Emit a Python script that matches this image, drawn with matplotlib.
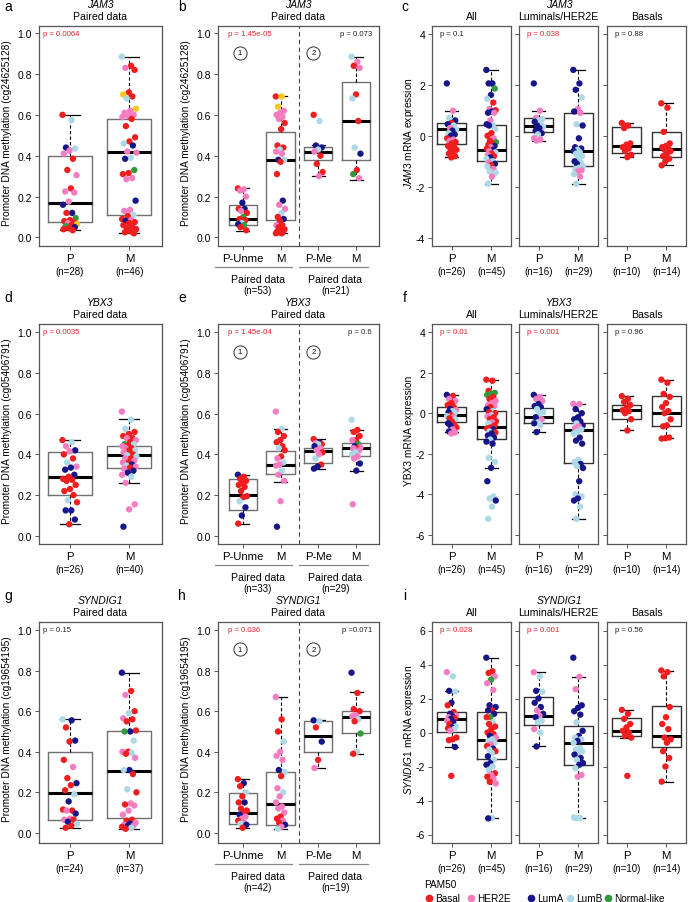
import numpy as np
import matplotlib
matplotlib.use("Agg")
import matplotlib.pyplot as plt
from matplotlib.lines import Line2D

plt.rcParams['font.family'] = ['Liberation Sans', 'DejaVu Sans']
plt.rcParams['mathtext.fontset'] = 'custom'
plt.rcParams['mathtext.it'] = 'Liberation Sans:italic'
plt.rcParams['mathtext.rm'] = 'Liberation Sans'

W, H = 688, 903

# PAM50 colour codes: B=Basal H=HER2E A=LumA L=LumB N=Normal-like Y=unlabelled (gold)
PAM50 = {'B': '#F01E1E', 'H': '#F47DC2', 'A': '#16168A', 'L': '#ADD8E6',
         'N': '#2E9B3C', 'Y': '#F8C81A'}
legend_labels = ['Basal', 'HER2E', 'LumA', 'LumB', 'Normal-like']
legend_codes = ['B', 'H', 'A', 'L', 'N']

# box stats: [whisker low, q1, median, q3, whisker high]
# ---------------- JAM3 ----------------
a_P_stats = [0.035, 0.075, 0.17, 0.40, 0.60]
a_P_vals = [0.60, 0.575, 0.44, 0.435, 0.425, 0.41, 0.385, 0.33, 0.305, 0.24, 0.225, 0.22, 0.175, 0.16,
            0.12, 0.12, 0.095, 0.085, 0.08, 0.075, 0.07, 0.065, 0.06, 0.055, 0.05, 0.045, 0.04, 0.035]
a_P_cols = "BLALHHBBHBHHHAABNBBBHYBNABBB"
a_M_stats = [0.02, 0.11, 0.42, 0.58, 0.885]
a_M_vals = [0.885, 0.84, 0.83, 0.82, 0.71, 0.70, 0.69, 0.68, 0.63, 0.62, 0.61, 0.60, 0.595, 0.59, 0.58,
            0.545, 0.49, 0.47, 0.46, 0.45, 0.42, 0.415, 0.39, 0.385, 0.33, 0.315, 0.31, 0.29, 0.285,
            0.18, 0.135, 0.13, 0.11, 0.105, 0.09, 0.085, 0.08, 0.075, 0.07, 0.06, 0.05, 0.045, 0.04,
            0.03, 0.025, 0.02]
a_M_cols = "LBHBBYBLYHHHHHBBBBLAHHLANBBHHAHHLBBHABBBBBBBBB"

b_PU_stats = [0.03, 0.06, 0.088, 0.16, 0.24]
b_PU_vals = [0.24, 0.235, 0.23, 0.20, 0.17, 0.14, 0.14, 0.13, 0.12, 0.10, 0.09, 0.085, 0.07, 0.065,
             0.06, 0.05, 0.035]
b_PU_cols = "BHHHABAHBNBBLANBB"
b_M1_stats = [0.02, 0.085, 0.38, 0.515, 0.69]
b_M1_vals = [0.69, 0.69, 0.64, 0.62, 0.61, 0.60, 0.59, 0.58, 0.56, 0.53, 0.45, 0.44, 0.43, 0.42, 0.41,
             0.38, 0.38, 0.37, 0.31, 0.18, 0.16, 0.14, 0.12, 0.10, 0.09, 0.08, 0.06, 0.06, 0.05, 0.04,
             0.035, 0.03, 0.03, 0.025, 0.02, 0.02]
b_M1_cols = "BYYHHHHHBBBBLHHALBBAHHLBABHBBBBBBBBB"
b_PM_stats = [0.30, 0.38, 0.42, 0.445, 0.45]
b_PM_vals = [0.60, 0.57, 0.45, 0.44, 0.43, 0.42, 0.40, 0.36, 0.32, 0.30]
b_PM_cols = "BLAALHBBBH"
b_M2_stats = [0.28, 0.38, 0.57, 0.76, 0.885]
b_M2_vals = [0.885, 0.86, 0.84, 0.83, 0.70, 0.68, 0.57, 0.44, 0.41, 0.33, 0.31, 0.29]
b_M2_cols = "LHBHBLBLABNH"

c_allP_stats = [-0.84, -0.34, 0.27, 0.5, 0.98]
c_allP_vals = [2.05, 0.98, 0.7, 0.6, 0.5, 0.45, 0.4, 0.3, 0.25, 0.2, 0.1, 0.05, 0.0, -0.1, -0.15, -0.2,
               -0.25, -0.3, -0.4, -0.45, -0.5, -0.55, -0.6, -0.7, -0.8, -0.85]
c_allP_cols = "AHLABALHLALAABHHBBBBBBBBBB"
c_allM_stats = [-1.88, -0.99, -0.54, 0.42, 2.58]
c_allM_vals = [2.58, 2.05, 2.05, 1.85, 1.6, 1.45, 1.3, 1.05, 1.0, 0.95, 0.9, 0.9, 0.6, 0.45, 0.4, 0.4,
               0.25, 0.1, 0.0, -0.1, -0.2, -0.25, -0.3, -0.35, -0.4, -0.45, -0.5, -0.55, -0.6, -0.65,
               -0.7, -0.75, -0.8, -0.85, -0.9, -1.0, -1.05, -1.1, -1.15, -1.2, -1.3, -1.4, -1.45,
               -1.6, -1.88]
c_allM_cols = "AAANALBHBAAHHALALBBHBNBBAHBAHLBHBALLHABLHLLHL"
c_lumP_stats = [-0.19, 0.14, 0.40, 0.70, 0.98]
c_lumP_vals = [2.05, 0.98, 0.7, 0.65, 0.6, 0.55, 0.45, 0.4, 0.35, 0.3, 0.2, 0.1, 0.05, -0.1, -0.15, -0.19]
c_lumP_cols = "AHHLLALALAAALHHH"
c_lumM_stats = [-1.88, -1.19, -0.6, 0.88, 2.58]
c_lumM_vals = [2.58, 2.05, 1.8, 1.5, 1.05, 0.95, 0.9, 0.45, 0.4, -0.1, -0.45, -0.5, -0.55, -0.6, -0.65,
               -0.7, -0.8, -0.9, -1.0, -1.05, -1.1, -1.2, -1.25, -1.3, -1.35, -1.4, -1.5, -1.6, -1.88]
c_lumM_cols = "AAALHAHLAAAALALLLLALALLLHHLHL"
c_basP_stats = [-0.84, -0.67, -0.41, 0.33, 0.5]
c_basP_vals = [0.5, 0.4, 0.3, -0.3, -0.35, -0.45, -0.5, -0.6, -0.75, -0.84]
c_basM_stats = [-1.16, -0.84, -0.5, 0.14, 1.27]
c_basM_vals = [1.27, 1.1, 0.15, -0.3, -0.4, -0.45, -0.5, -0.55, -0.6, -0.7, -0.8, -0.9, -1.0, -1.16]

# ---------------- YBX3 ----------------
d_P_stats = [0.057, 0.20, 0.29, 0.41, 0.47]
d_P_vals = [0.47, 0.46, 0.44, 0.42, 0.415, 0.40, 0.38, 0.36, 0.34, 0.335, 0.325, 0.30, 0.29, 0.28,
            0.275, 0.27, 0.25, 0.23, 0.22, 0.20, 0.175, 0.165, 0.125, 0.125, 0.08, 0.057]
d_P_cols = "BLHAHBBLHAAABBBBBBBBLBAAAB"
d_M_stats = [0.26, 0.333, 0.397, 0.44, 0.574]
d_M_vals = [0.61, 0.57, 0.525, 0.51, 0.50, 0.49, 0.48, 0.48, 0.47, 0.46, 0.45, 0.45, 0.445, 0.44, 0.43,
            0.43, 0.42, 0.42, 0.41, 0.40, 0.395, 0.39, 0.38, 0.38, 0.37, 0.36, 0.36, 0.35, 0.345, 0.34,
            0.335, 0.33, 0.32, 0.31, 0.30, 0.29, 0.26, 0.155, 0.13, 0.045]
d_M_cols = "HLLBBBBHHBNLBHBHLBHBLLBHHBHALHBHAAHLHHHA"

e_PU_stats = [0.06, 0.125, 0.20, 0.277, 0.30]
e_PU_vals = [0.30, 0.29, 0.28, 0.27, 0.26, 0.25, 0.24, 0.22, 0.195, 0.19, 0.17, 0.14, 0.10, 0.06]
e_PU_cols = "ABBBBBBBBBLAAB"
e_M1_stats = [0.266, 0.305, 0.35, 0.415, 0.525]
e_M1_vals = [0.61, 0.525, 0.51, 0.49, 0.47, 0.46, 0.44, 0.43, 0.42, 0.39, 0.38, 0.36, 0.35, 0.345,
             0.32, 0.30, 0.27, 0.17, 0.045]
e_M1_cols = "HLBBBBBLBBHLHHLHHHA"
e_PM_stats = [0.33, 0.356, 0.415, 0.433, 0.475]
e_PM_vals = [0.475, 0.46, 0.455, 0.45, 0.45, 0.44, 0.43, 0.42, 0.41, 0.40, 0.38, 0.35, 0.34, 0.33]
e_PM_cols = "BAHBLAHHBHLBAA"
e_M2_stats = [0.32, 0.393, 0.433, 0.454, 0.52]
e_M2_vals = [0.57, 0.52, 0.51, 0.49, 0.47, 0.47, 0.45, 0.44, 0.435, 0.43, 0.43, 0.42, 0.41, 0.40,
             0.39, 0.38, 0.355, 0.32, 0.155]
e_M2_cols = "LBBBBHNAHBHHLLHHAAH"

f_allP_stats = [-0.93, -0.44, -0.11, 0.30, 0.88]
f_allP_vals = [0.9, 0.85, 0.7, 0.6, 0.5, 0.4, 0.3, 0.2, 0.15, 0.1, 0.05, 0.0, -0.1, -0.15, -0.2, -0.25,
               -0.3, -0.4, -0.5, -0.55, -0.6, -0.7, -0.8, -0.9, -0.95, -1.0]
f_allP_cols = "ABHHBBBAHLALBLHBLBABABHAHH"
f_allM_stats = [-2.69, -1.26, -0.69, 0.13, 1.65]
f_allM_vals = [1.65, 1.6, 1.1, 1.0, 0.95, 0.9, 0.8, 0.7, 0.6, 0.5, 0.4, 0.35, 0.3, 0.2, 0.1, 0.05, 0.0,
               -0.1, -0.15, -0.2, -0.3, -0.4, -0.45, -0.5, -0.6, -0.7, -0.75, -0.8, -0.9, -0.95,
               -1.0, -1.1, -1.2, -1.3, -1.4, -1.5, -2.2, -2.4, -2.69, -3.35, -4.1, -4.2, -4.3, -4.6,
               -5.2]
f_allM_cols = "BBBNNNBBHHHHBALBBLHBBBHLBBBALBAAALAALLAALLALL"
f_lumP_stats = [-0.93, -0.49, -0.21, 0.27, 0.91]
f_lumP_vals = [0.9, 0.8, 0.7, 0.6, 0.45, 0.35, 0.3, 0.2, 0.05, -0.05, -0.2, -0.3, -0.45, -0.5, -0.6, -0.93]
f_lumP_cols = "AHHHAAALLLAHLALA"
f_lumM_stats = [-5.2, -2.46, -0.82, -0.47, 0.46]
f_lumM_vals = [0.46, 0.45, 0.2, 0.0, -0.2, -0.3, -0.4, -0.5, -0.6, -0.65, -0.75, -0.8, -0.9, -1.0,
               -1.2, -1.35, -1.5, -2.3, -2.4, -2.5, -2.6, -2.7, -3.35, -4.0, -4.1, -4.2, -4.3, -4.6, -5.2]
f_lumM_cols = "HHAAAAALAHHLLLAAALLALAALLAALL"
f_basP_stats = [-0.85, -0.28, 0.15, 0.41, 0.84]
f_basP_vals = [0.84, 0.7, 0.55, 0.4, 0.25, 0.15, 0.1, 0.0, -0.3, -0.85]
f_basM_stats = [-1.23, -0.65, -0.01, 0.84, 1.65]
f_basM_vals = [1.65, 1.5, 0.95, 0.8, 0.5, 0.3, 0.1, 0.0, -0.3, -0.6, -0.65, -1.2, -1.23, -1.25]

# ---------------- SYNDIG1 ----------------
g_P_stats = [0.025, 0.063, 0.198, 0.40, 0.56]
g_P_vals = [0.56, 0.555, 0.52, 0.455, 0.45, 0.36, 0.325, 0.27, 0.245, 0.235, 0.21, 0.19, 0.155, 0.115,
            0.11, 0.11, 0.095, 0.07, 0.065, 0.065, 0.055, 0.045, 0.035, 0.025]
g_P_cols = "LABABBHBABBLABBHAHHBALBB"
g_M_stats = [0.02, 0.074, 0.305, 0.50, 0.79]
g_M_vals = [0.79, 0.70, 0.68, 0.60, 0.59, 0.565, 0.56, 0.55, 0.505, 0.50, 0.50, 0.455, 0.40, 0.40,
            0.395, 0.39, 0.37, 0.31, 0.31, 0.29, 0.215, 0.20, 0.145, 0.14, 0.135, 0.11, 0.09, 0.065,
            0.06, 0.05, 0.045, 0.04, 0.035, 0.035, 0.03, 0.025, 0.02]
g_M_cols = "ABHBLHBBBANLBHLBHALBLBHBHHHBBHAHHABLB"

h_PU_stats = [0.025, 0.046, 0.098, 0.197, 0.265]
h_PU_vals = [0.265, 0.245, 0.23, 0.20, 0.18, 0.15, 0.15, 0.12, 0.11, 0.10, 0.09, 0.08, 0.07, 0.06,
             0.05, 0.045, 0.04, 0.025]
h_PU_cols = "BABLBBABBBAHHBHLAB"
h_M1_stats = [0.02, 0.04, 0.14, 0.30, 0.67]
h_M1_vals = [0.67, 0.56, 0.50, 0.45, 0.40, 0.38, 0.36, 0.31, 0.30, 0.28, 0.22, 0.20, 0.18, 0.15, 0.13,
             0.12, 0.10, 0.08, 0.07, 0.06, 0.05, 0.04, 0.03, 0.02]
h_M1_cols = "HBBLHHHALBHLHHHHHBBHBAHL"
h_PM_stats = [0.32, 0.40, 0.48, 0.55, 0.555]
h_PM_vals = [0.555, 0.55, 0.52, 0.45, 0.36, 0.32]
h_PM_cols = "ALBABH"
h_M2_stats = [0.39, 0.495, 0.57, 0.60, 0.693]
h_M2_vals = [0.79, 0.69, 0.61, 0.60, 0.58, 0.575, 0.56, 0.55, 0.49, 0.40, 0.39]
h_M2_cols = "ABBBHHLBNLB"

i_allP_stats = [-0.85, 0.03, 0.78, 1.2, 2.45]
i_allP_vals = [3.55, 3.3, 2.45, 2.4, 1.75, 1.6, 1.2, 1.1, 1.0, 0.95, 0.9, 0.85, 0.8, 0.7, 0.6, 0.5,
               0.35, 0.3, 0.25, 0.2, 0.1, -0.3, -0.4, -0.45, -0.85, -2.55]
i_allP_cols = "HLALABBAHAHBAHABLABLHBBBAB"
i_allM_stats = [-5.03, -1.55, -0.46, 1.19, 4.4]
i_allM_vals = [4.4, 3.6, 3.5, 3.3, 3.1, 2.9, 2.5, 1.6, 1.5, 1.3, 1.3, 1.1, 0.9, 0.9, 0.6, 0.5, 0.35,
               0.2, 0.0, -0.1, -0.2, -0.3, -0.4, -0.5, -0.6, -0.7, -0.8, -0.95, -1.0, -1.1, -1.2, -1.4,
               -1.6, -1.8, -1.9, -2.0, -2.2, -2.4, -2.5, -2.6, -2.7, -2.9, -3.0, -5.03, -5.05]
i_allM_cols = "ABBHNHHAABAANBLBBBBBAHLLLHBALBLALAALLBHBHBHLA"
i_lumP_stats = [-0.82, 0.42, 0.98, 2.08, 3.58]
i_lumP_vals = [3.55, 3.3, 2.45, 2.4, 2.0, 1.75, 1.5, 1.3, 1.1, 1.0, 0.9, 0.7, 0.6, 0.2, 0.0, -0.82]
i_lumP_cols = "HLALAAAHAHALLHLA"
i_lumM_stats = [-5.03, -1.94, -0.6, 0.38, 3.28]
i_lumM_vals = [4.4, 3.28, 2.55, 1.6, 1.45, 1.25, 1.05, 0.6, 0.1, -0.2, -0.3, -0.4, -0.5, -0.6, -0.9,
               -1.0, -1.1, -1.2, -1.3, -1.5, -1.6, -1.8, -1.9, -2.1, -2.5, -2.6, -5.0, -5.03, -5.05]
i_lumM_cols = "AHHAAAALAALLALLLLLAALAALHHLLL"
i_basP_stats = [-0.33, -0.23, 0.09, 0.84, 1.33]
i_basP_vals = [1.33, 1.1, 0.8, 0.5, 0.3, 0.1, 0.0, -0.2, -0.3, -2.55]
i_basM_stats = [-2.89, -0.86, -0.19, 1.55, 3.63]
i_basM_vals = [3.65, 3.55, 3.3, 1.5, 0.9, 0.5, 0.2, -0.3, -0.4, -0.6, -1.1, -1.5, -2.0, -2.89]

fig = plt.figure(figsize=(W / 100, H / 100), dpi=100)
RED = '#E8202A'


def add_ax(l, t, r, b):
    return fig.add_axes([l / W, 1 - b / H, (r - l) / W, (b - t) / H])


def ftext(x, y, s, **kw):
    kw.setdefault('ha', 'center')
    kw.setdefault('va', 'center')
    fig.text(x / W, 1 - y / H, s, **kw)


def style(ax, ylim, yticks, ylab=True, fmt="{:.1f}"):
    ax.set_ylim(ylim)
    ax.set_yticks(yticks)
    if ylab:
        ax.set_yticklabels([fmt.format(t) for t in yticks])
    else:
        ax.set_yticklabels([])
    for sp in ax.spines.values():
        sp.set_color('#555555')
        sp.set_linewidth(0.9)
    ax.tick_params(axis='y', length=3, width=0.7, color='#555555', labelsize=7.5, pad=2)
    ax.tick_params(axis='x', length=3, width=0.7, color='#555555', labelsize=8.2, pad=2)


def draw_box(ax, pos, stats, vals, cols, edge):
    st = dict(whislo=stats[0], q1=stats[1], med=stats[2], q3=stats[3], whishi=stats[4], fliers=[])
    ax.bxp([st], positions=[pos], widths=0.74, capwidths=0.34, showfliers=False,
           boxprops=dict(color=edge, lw=1.0),
           medianprops=dict(color='black', lw=2.2),
           whiskerprops=dict(color='black', lw=0.8, ls=(0, (3, 2))),
           capprops=dict(color='black', lw=0.9), zorder=2)
    n = len(vals)
    jit = ((np.arange(n) * 0.618034) % 1 - 0.5) * 0.25
    ax.scatter(pos + jit, vals, s=21, c=[PAM50[k] for k in cols], linewidths=0, zorder=3)


def n_label(ax, pos, s, dy=-18):
    ax.annotate(s, (pos, 0), xycoords=('data', 'axes fraction'), xytext=(0, dy),
                textcoords='offset points', ha='center', va='center', fontsize=7)


def pval(ax, x, s, color, ha='left'):
    ax.text(x, 0.965, s, transform=ax.transAxes, fontsize=5.6, color=color, ha=ha, va='center')


def paired_panel(ax, boxes, p1, p1c, p2, p2c, n1, n2, ylim):
    ax.set_xlim(0.35, 4.6)
    for k, (st, v, c) in enumerate(boxes):
        draw_box(ax, k + 1, st, v, c, '#707070')
    style(ax, ylim, [0, 0.2, 0.4, 0.6, 0.8, 1.0])
    ax.set_xticks([1, 2, 3, 4])
    ax.set_xticklabels(['P-Unme', 'M', 'P-Me', 'M'])
    ax.axvline(2.5, color='#444444', ls=(0, (4, 3)), lw=0.8)
    pval(ax, 0.06, p1, p1c)
    pval(ax, 0.957, p2, p2c, ha='right')
    for xc, lab in [(0.92, '1'), (2.87, '2')]:
        ax.plot([xc], [0.905], marker='o', ms=9.5, mfc='white', mec='#333333', mew=0.7, zorder=4)
        ax.text(xc, 0.905, lab, fontsize=5.5, ha='center', va='center', zorder=5)
    for (x0, x1, xm, nn) in [(0.26, 2.3, 1.4, n1), (2.5, 4.3, 3.45, n2)]:
        ax.plot([x0, x1], [-0.095, -0.095], color='#888888', lw=0.9,
                transform=ax.get_xaxis_transform(), clip_on=False)
        ax.annotate('Paired data', (xm, 0), xycoords=('data', 'axes fraction'), xytext=(0, -24),
                    textcoords='offset points', ha='center', va='center', fontsize=7.6)
        n_label(ax, xm, nn, dy=-32)


def pair_panel(ax, sP, vP, cP, sM, vM, cM, p, pc, nP, nM, ylim):
    ax.set_xlim(0.48, 2.55)
    draw_box(ax, 1, sP, vP, cP, '#707070')
    draw_box(ax, 2, sM, vM, cM, '#707070')
    style(ax, ylim, [0, 0.2, 0.4, 0.6, 0.8, 1.0])
    ax.set_xticks([1, 2])
    ax.set_xticklabels(['P', 'M'])
    pval(ax, 0.035, p, pc)
    n_label(ax, 1, nP)
    n_label(ax, 2, nM)


def expr_panel(axs, groups, ylim, yticks):
    for j, (ax, g) in enumerate(zip(axs, groups)):
        sP, vP, cP, sM, vM, cM, p, pc, nP, nM = g
        ax.set_xlim(0.5, 2.5)
        draw_box(ax, 1, sP, vP, cP, '#333333')
        draw_box(ax, 2, sM, vM, cM, '#333333')
        style(ax, ylim, yticks, ylab=(j == 0), fmt="{:g}")
        ax.set_xticks([1, 2])
        ax.set_xticklabels(['P', 'M'])
        pval(ax, 0.1, p, pc)
        n_label(ax, 1, nP)
        n_label(ax, 2, nM)


rows = [(27, 247), (325, 545), (623, 844)]
sub_x = [(432, 511), (519, 598), (607, 686)]

# ---- row 1: JAM3 ----
t, b = rows[0]
ax_a = add_ax(39, t, 162, b)
pair_panel(ax_a, a_P_stats, a_P_vals, a_P_cols, a_M_stats, a_M_vals, a_M_cols,
           'p = 0.0064', RED, '(n=28)', '(n=46)', (-0.042, 1.035))
ax_b = add_ax(218, t, 379, b)
paired_panel(ax_b, [(b_PU_stats, b_PU_vals, b_PU_cols), (b_M1_stats, b_M1_vals, b_M1_cols),
                    (b_PM_stats, b_PM_vals, b_PM_cols), (b_M2_stats, b_M2_vals, b_M2_cols)],
             'p = 1.45e-05', RED, 'p = 0.073', '#222222', '(n=53)', '(n=21)', (-0.042, 1.035))
axs_c = [add_ax(l, t, r, b) for l, r in sub_x]
expr_panel(axs_c, [
    (c_allP_stats, c_allP_vals, c_allP_cols, c_allM_stats, c_allM_vals, c_allM_cols,
     'p = 0.1', '#222222', '(n=26)', '(n=45)'),
    (c_lumP_stats, c_lumP_vals, c_lumP_cols, c_lumM_stats, c_lumM_vals, c_lumM_cols,
     'p = 0.038', RED, '(n=16)', '(n=29)'),
    (c_basP_stats, c_basP_vals, 'B' * len(c_basP_vals), c_basM_stats, c_basM_vals,
     'B' * len(c_basM_vals), 'p = 0.88', '#222222', '(n=10)', '(n=14)')],
    (-4.32, 4.3), [-4, -2, 0, 2, 4])

# ---- row 2: YBX3 ----
t, b = rows[1]
ax_d = add_ax(39, t, 162, b)
pair_panel(ax_d, d_P_stats, d_P_vals, d_P_cols, d_M_stats, d_M_vals, d_M_cols,
           'p = 0.0035', RED, '(n=26)', '(n=40)', (-0.04, 1.04))
ax_e = add_ax(218, t, 379, b)
paired_panel(ax_e, [(e_PU_stats, e_PU_vals, e_PU_cols), (e_M1_stats, e_M1_vals, e_M1_cols),
                    (e_PM_stats, e_PM_vals, e_PM_cols), (e_M2_stats, e_M2_vals, e_M2_cols)],
             'p = 1.45e-04', RED, 'p = 0.6', '#222222', '(n=33)', '(n=29)', (-0.04, 1.04))
axs_f = [add_ax(l, t, r, b) for l, r in sub_x]
expr_panel(axs_f, [
    (f_allP_stats, f_allP_vals, f_allP_cols, f_allM_stats, f_allM_vals, f_allM_cols,
     'p = 0.01', RED, '(n=26)', '(n=45)'),
    (f_lumP_stats, f_lumP_vals, f_lumP_cols, f_lumM_stats, f_lumM_vals, f_lumM_cols,
     'p = 0.001', RED, '(n=16)', '(n=29)'),
    (f_basP_stats, f_basP_vals, 'B' * len(f_basP_vals), f_basM_stats, f_basM_vals,
     'B' * len(f_basM_vals), 'p = 0.96', '#222222', '(n=10)', '(n=14)')],
    (-6.44, 4.39), [-6, -4, -2, 0, 2, 4])

# ---- row 3: SYNDIG1 ----
t, b = rows[2]
ax_g = add_ax(39, t, 162, b)
pair_panel(ax_g, g_P_stats, g_P_vals, g_P_cols, g_M_stats, g_M_vals, g_M_cols,
           'p = 0.15', '#222222', '(n=24)', '(n=37)', (-0.05, 1.04))
ax_h = add_ax(218, t, 379, b)
paired_panel(ax_h, [(h_PU_stats, h_PU_vals, h_PU_cols), (h_M1_stats, h_M1_vals, h_M1_cols),
                    (h_PM_stats, h_PM_vals, h_PM_cols), (h_M2_stats, h_M2_vals, h_M2_cols)],
             'p = 0.036', RED, 'p =0.071', '#222222', '(n=42)', '(n=19)', (-0.05, 1.04))
axs_i = [add_ax(l, t, r, b) for l, r in sub_x]
expr_panel(axs_i, [
    (i_allP_stats, i_allP_vals, i_allP_cols, i_allM_stats, i_allM_vals, i_allM_cols,
     'p = 0.028', RED, '(n=26)', '(n=45)'),
    (i_lumP_stats, i_lumP_vals, i_lumP_cols, i_lumM_stats, i_lumM_vals, i_lumM_cols,
     'p = 0.001', RED, '(n=16)', '(n=29)'),
    (i_basP_stats, i_basP_vals, 'B' * len(i_basP_vals), i_basM_stats, i_basM_vals,
     'B' * len(i_basM_vals), 'p = 0.56', '#222222', '(n=10)', '(n=14)')],
    (-6.5, 6.5), [-6, -4, -2, 0, 2, 4, 6])

# ---- titles, letters, y labels ----
genes = ['JAM3', 'YBX3', 'SYNDIG1']
cg_ids = ['cg24625128', 'cg05406791', 'cg19654195']
expr_labels = [r'$\it{JAM3}$ mRNA expression', 'YBX3 mRNA expression', r'$\it{SYNDIG1}$ mRNA expression']
letters = [('a', 'b', 'c'), ('d', 'e', 'f'), ('g', 'h', 'i')]
for r, (t, b) in enumerate(rows):
    ly = t - 20 if r == 0 else t - 27
    for lx, lt in zip([8, 182, 405], letters[r]):
        ftext(lx, ly, lt, fontsize=10)
    for cx in [100, 298, 559]:
        ftext(cx, t - 22, genes[r], fontsize=7.5, style='italic')
    ftext(100, t - 10, 'Paired data', fontsize=7.6)
    ftext(298, t - 10, 'Paired data', fontsize=7.6)
    for (l, rr), lab in zip(sub_x, ['All', 'Luminals/HER2E', 'Basals']):
        ftext((l + rr) / 2, t - 10, lab, fontsize=7.6)
    mid = (t + b) / 2 - 4
    ftext(7, mid, f'Promoter DNA methylation ({cg_ids[r]})', fontsize=7.3, rotation=90)
    ftext(186, mid, f'Promoter DNA methylation ({cg_ids[r]})', fontsize=7.3, rotation=90)
    ftext(409, mid, expr_labels[r], fontsize=7.3, rotation=90)

# ---- PAM50 legend ----
ftext(424, 885, 'PAM50', fontsize=7.2, ha='left')
for x0, code, lab in zip([429, 471, 531, 570, 608], legend_codes, legend_labels):
    fig.add_artist(Line2D([x0 / W], [1 - 899 / H], marker='o', ms=4.5, color=PAM50[code],
                          lw=0, transform=fig.transFigure))
    ftext(x0 + 6, 899, lab, fontsize=7.2, ha='left')

fig.savefig('out.png', dpi=100)
